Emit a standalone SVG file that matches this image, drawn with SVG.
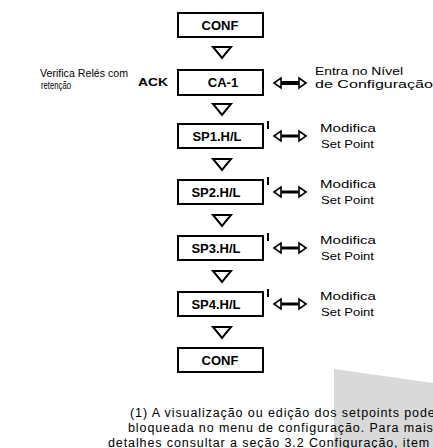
<svg xmlns="http://www.w3.org/2000/svg" width="433" height="448" viewBox="0 0 433 448">
<style>
.box{fill:#fff;stroke:#000;stroke-width:2}
.lbl{font-family:"Liberation Sans",Arial,sans-serif;font-size:13px;font-weight:bold;fill:#000;text-anchor:middle}
.t{font-family:"Liberation Sans",Arial,sans-serif;font-size:10.5px;fill:#000}
.note{font-family:"Liberation Sans",Arial,sans-serif;font-size:12.5px;fill:#000;letter-spacing:0.9px}
.tri{fill:#fff;stroke:#000;stroke-width:2;stroke-linejoin:miter}
.head{fill:#fff;stroke:#000;stroke-width:1.6}
.shaft{stroke:#000;stroke-width:3}
.tick{stroke:#000;stroke-width:2}
</style>
<defs>
<g id="dbl">
<line class="shaft" x1="280" y1="0" x2="300" y2="0"/>
<polygon class="head" points="274,0 281,-5 281,5"/>
<polygon class="head" points="306,0 299,-5 299,5"/>
</g>
<polygon id="down" class="tri" points="213,0 231,0 222,11"/>
</defs>
<rect width="433" height="448" fill="#fff"/>
<polygon points="334,369 433,383 433,448 334,448" fill="#d9d9d9"/>

<g id="connectors">
<use href="#down" y="47"/>
<use href="#down" y="104"/>
<use href="#down" y="159"/>
<use href="#down" y="215"/>
<use href="#down" y="271"/>
<use href="#down" y="327"/>
<line x1="280" y1="83" x2="300" y2="83" stroke="#000" stroke-width="4"/>
<polygon class="head" points="274,83 281,78 281,88"/>
<polygon class="head" points="306,83 299,78 299,88"/>
<use href="#dbl" y="136"/>
<use href="#dbl" y="192"/>
<use href="#dbl" y="248"/>
<use href="#dbl" y="304"/>
<line class="tick" x1="268" y1="121" x2="268" y2="129"/>
<line class="tick" x1="268" y1="177" x2="268" y2="185"/>
<line class="tick" x1="268" y1="233" x2="268" y2="241"/>
<line class="tick" x1="268" y1="289" x2="268" y2="297"/>
</g>

<g id="conf-top">
<rect class="box" x="178" y="13" width="85" height="24"/>
<text class="lbl" x="220" y="30">CONF</text>
</g>
<g id="ca1">
<rect class="box" x="178" y="70" width="85" height="25"/>
<text class="lbl" x="223" y="87">CA-1</text>
<text class="t" x="40" y="77" textLength="88" lengthAdjust="spacingAndGlyphs">Verifica Relés com</text>
<text class="t" x="41" y="89" textLength="30" lengthAdjust="spacingAndGlyphs">retenção</text>
<text class="t" x="138" y="86" font-size="12" font-weight="bold" textLength="30" lengthAdjust="spacingAndGlyphs">ACK</text>
<text class="t" x="315" y="75" textLength="88" lengthAdjust="spacingAndGlyphs">Entra no Nível</text>
<text class="t" x="315" y="88" textLength="118" lengthAdjust="spacingAndGlyphs">de Configuração</text>
</g>
<g id="sp1">
<rect class="box" x="178" y="124" width="85" height="24"/>
<text class="lbl" x="217" y="141">SP1.H/L</text>
<text class="t" x="320" y="132" textLength="56" lengthAdjust="spacingAndGlyphs">Modifica</text>
<text class="t" x="321" y="148" textLength="53" lengthAdjust="spacingAndGlyphs">Set Point</text>
</g>
<g id="sp2">
<rect class="box" x="178" y="180" width="85" height="24"/>
<text class="lbl" x="216" y="197">SP2.H/L</text>
<text class="t" x="320" y="188" textLength="56" lengthAdjust="spacingAndGlyphs">Modifica</text>
<text class="t" x="321" y="204" textLength="53" lengthAdjust="spacingAndGlyphs">Set Point</text>
</g>
<g id="sp3">
<rect class="box" x="178" y="236" width="85" height="24"/>
<text class="lbl" x="216" y="253">SP3.H/L</text>
<text class="t" x="320" y="244" textLength="56" lengthAdjust="spacingAndGlyphs">Modifica</text>
<text class="t" x="321" y="260" textLength="53" lengthAdjust="spacingAndGlyphs">Set Point</text>
</g>
<g id="sp4">
<rect class="box" x="178" y="292" width="85" height="24"/>
<text class="lbl" x="216" y="309">SP4.H/L</text>
<text class="t" x="320" y="300" textLength="56" lengthAdjust="spacingAndGlyphs">Modifica</text>
<text class="t" x="321" y="316" textLength="53" lengthAdjust="spacingAndGlyphs">Set Point</text>
</g>
<g id="conf-bottom">
<rect class="box" x="178" y="348" width="85" height="24"/>
<text class="lbl" x="220" y="365">CONF</text>
</g>

<g id="footnote">
<text class="note" x="130" y="417">(1) A visualização ou edição dos setpoints pode ser</text>
<text class="note" x="128" y="432" letter-spacing="1.4">bloqueada no menu de configuração. Para mais</text>
<text class="note" x="108" y="447">detalhes consultar a seção 3.2 Configuração, item</text>
</g>
</svg>
